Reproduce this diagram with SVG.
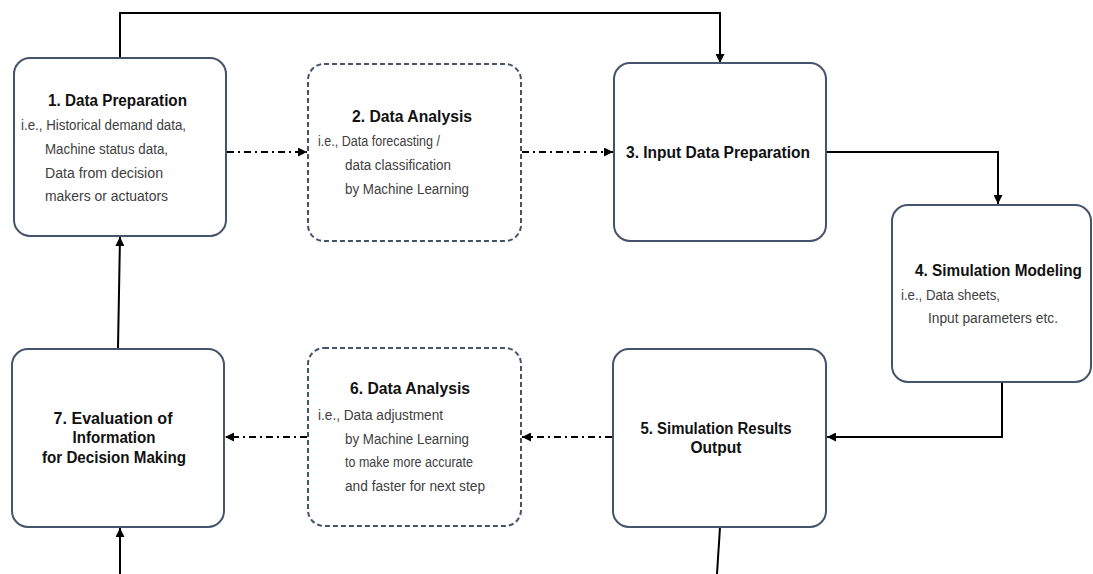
<svg xmlns="http://www.w3.org/2000/svg" width="1093" height="574" viewBox="0 0 1093 574">
<style>
.node{fill:#ffffff;stroke:#44546a;stroke-width:2}
.dashed{stroke-dasharray:5 3}
.title{font-family:"Liberation Sans",Arial,sans-serif;font-weight:bold;font-size:16px;fill:#111111}
.body{font-family:"Liberation Sans",Arial,sans-serif;font-size:14px;fill:#404040}
.mid{text-anchor:middle}
.solid{fill:none;stroke:#000000;stroke-width:2}
.dd{fill:none;stroke:#000000;stroke-width:2;stroke-dasharray:7 4 2 4}
</style>
<defs>
<marker id="arr" markerUnits="userSpaceOnUse" markerWidth="9" markerHeight="9" refX="9" refY="4.5" orient="auto">
<path d="M0,0 L9,4.5 L0,9 z" fill="#000000"/>
</marker>
</defs>
<rect width="1093" height="574" fill="#ffffff"/>

<g id="connectors">
<path class="solid" d="M120,58 V13 H720 V63" marker-end="url(#arr)"/>
<path class="dd" d="M227,152 H307" marker-end="url(#arr)"/>
<path class="dd" d="M522,152 H613" marker-end="url(#arr)"/>
<path class="solid" d="M827,152 H998 V204" marker-end="url(#arr)"/>
<path class="solid" d="M1002,383 V437 H827" marker-end="url(#arr)"/>
<path class="dd" d="M612,437 H522" marker-end="url(#arr)"/>
<path class="dd" d="M307,437 H225" marker-end="url(#arr)"/>
<path class="solid" d="M118,348 L120,237" marker-end="url(#arr)"/>
<path class="solid" d="M120,574 V528" marker-end="url(#arr)"/>
<path class="solid" d="M720,527 L717,574"/>
</g>

<g id="node1">
<rect class="node" x="14" y="58" width="212" height="178" rx="16"/>
<text class="title" x="48" y="106" textLength="139" lengthAdjust="spacingAndGlyphs">1. Data Preparation</text>
<text class="body" x="21" y="130" textLength="165" lengthAdjust="spacingAndGlyphs">i.e., Historical demand data,</text>
<text class="body" x="45" y="154" textLength="123" lengthAdjust="spacingAndGlyphs">Machine status data,</text>
<text class="body" x="45" y="178" textLength="118" lengthAdjust="spacingAndGlyphs">Data from decision</text>
<text class="body" x="45" y="201" textLength="123" lengthAdjust="spacingAndGlyphs">makers or actuators</text>
</g>

<g id="node2">
<rect class="node dashed" x="308" y="64" width="213" height="177" rx="16"/>
<text class="title" x="352" y="122" textLength="120" lengthAdjust="spacingAndGlyphs">2. Data Analysis</text>
<text class="body" x="318" y="146" textLength="122" lengthAdjust="spacingAndGlyphs">i.e., Data forecasting /</text>
<text class="body" x="345" y="170" textLength="106" lengthAdjust="spacingAndGlyphs">data classification</text>
<text class="body" x="345" y="194" textLength="124" lengthAdjust="spacingAndGlyphs">by Machine Learning</text>
</g>

<g id="node3">
<rect class="node" x="614" y="63" width="212" height="178" rx="16"/>
<text class="title" x="626" y="158" textLength="184" lengthAdjust="spacingAndGlyphs">3. Input Data Preparation</text>
</g>

<g id="node4">
<rect class="node" x="892" y="205" width="199" height="177" rx="16"/>
<text class="title" x="915" y="276" textLength="167" lengthAdjust="spacingAndGlyphs">4. Simulation Modeling</text>
<text class="body" x="901" y="300" textLength="99" lengthAdjust="spacingAndGlyphs">i.e., Data sheets,</text>
<text class="body" x="928" y="323" textLength="130" lengthAdjust="spacingAndGlyphs">Input parameters etc.</text>
</g>

<g id="node5">
<rect class="node" x="613" y="349" width="213" height="178" rx="16"/>
<text class="title mid" x="716" y="434" textLength="151" lengthAdjust="spacingAndGlyphs">5. Simulation Results</text>
<text class="title mid" x="716" y="453" textLength="51" lengthAdjust="spacingAndGlyphs">Output</text>
</g>

<g id="node6">
<rect class="node dashed" x="308" y="348" width="213" height="178" rx="16"/>
<text class="title" x="350" y="394" textLength="120" lengthAdjust="spacingAndGlyphs">6. Data Analysis</text>
<text class="body" x="318" y="420" textLength="125" lengthAdjust="spacingAndGlyphs">i.e., Data adjustment</text>
<text class="body" x="345" y="444" textLength="124" lengthAdjust="spacingAndGlyphs">by Machine Learning</text>
<text class="body" x="345" y="467" textLength="128" lengthAdjust="spacingAndGlyphs">to make more accurate</text>
<text class="body" x="345" y="491" textLength="140" lengthAdjust="spacingAndGlyphs">and faster for next step</text>
</g>

<g id="node7">
<rect class="node" x="12" y="349" width="212" height="178" rx="16"/>
<text class="title mid" x="113" y="424" textLength="119" lengthAdjust="spacingAndGlyphs">7. Evaluation of</text>
<text class="title mid" x="114" y="443" textLength="83" lengthAdjust="spacingAndGlyphs">Information</text>
<text class="title mid" x="114" y="463" textLength="144" lengthAdjust="spacingAndGlyphs">for Decision Making</text>
</g>
</svg>
